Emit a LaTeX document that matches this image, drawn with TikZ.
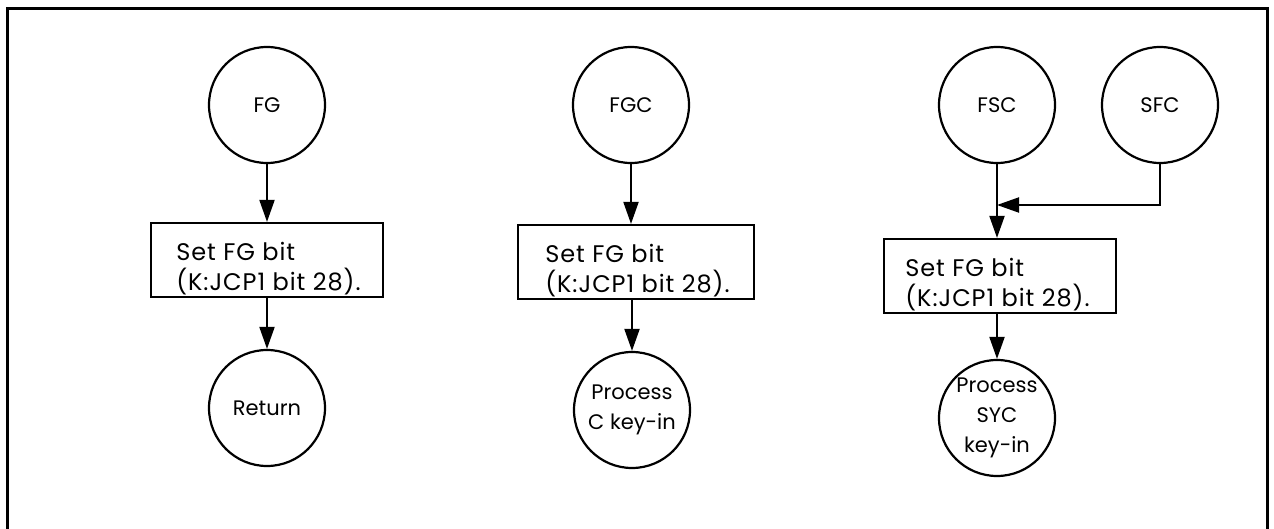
\documentclass[tikz,border=0pt]{standalone}
\usepackage{fontspec}
\setmainfont{Poppins}
\usetikzlibrary{arrows.meta}
\begin{document}
\begin{tikzpicture}[x=0.5pt,y=-0.5pt,
  every node/.style={font=\fontsize{10.5}{15}\selectfont},
  term/.style={circle,draw,line width=1.1pt,minimum size=58pt,inner sep=0pt},
  txt/.style={align=center,inner sep=0pt},
  proc/.style={draw,line width=1.1pt,minimum height=37pt,minimum width=116pt,inner sep=0pt},
  btxt/.style={anchor=north west,inner sep=0pt,align=left,
    font=\fontsize{12}{15}\selectfont\addfontfeature{LetterSpace=4}},
  flow/.style={line width=1pt,-{Triangle[length=11pt,width=7.5pt]}},
  frame/.style={line width=1.5pt}]
\useasboundingbox (0,0) rectangle (1274,529);
\draw[frame] (7,529) -- (7,9) -- (1267,9) -- (1267,529);
% column 1
\node[term] (fg) at (267,105) {FG};
\node[proc] (b1) at (267,260) {};
\node[btxt] (b1t) at ([xshift=13pt,yshift=-10pt]b1.north west) {Set FG bit\\(K:JCP1 bit 28).};
\node[term] (ret) at (267,408) {Return};
\draw[flow] (fg) -- (b1);
\draw[flow] (b1) -- (ret);
% column 2
\node[term] (fgc) at (631,105) {FGC};
\node[proc,minimum width=118pt] (b2) at (636,262) {};
\node[btxt] (b2t) at ([xshift=14pt,yshift=-10pt]b2.north west) {Set FG bit\\(K:JCP1 bit 28).};
\node[term] (pc) at (632,410) {};
\node[txt] (pct) at (pc) {Process\\C key-in};
\draw[flow] (fgc.south) -- (fgc.south |- b2.north);
\draw[flow] (pc.north |- b2.south) -- (pc.north);
% column 3
\node[term] (fsc) at (997,105) {FSC};
\node[term] (sfc) at (1160,105) {SFC};
\node[proc] (b3) at (1000,276) {};
\node[btxt] (b3t) at ([xshift=11pt,yshift=-10pt]b3.north west) {Set FG bit\\(K:JCP1 bit 28).};
\node[term] (ps) at (997,418) {};
\node[txt] (pst) at (ps) {Process\\SYC\\key-in};
\coordinate (j) at (997,205);
\draw[flow] (sfc.south) |- (j);
\draw[flow] (fsc.south) -- (fsc.south |- b3.north);
\draw[flow] (ps.north |- b3.south) -- (ps.north);
\end{tikzpicture}
\end{document}
